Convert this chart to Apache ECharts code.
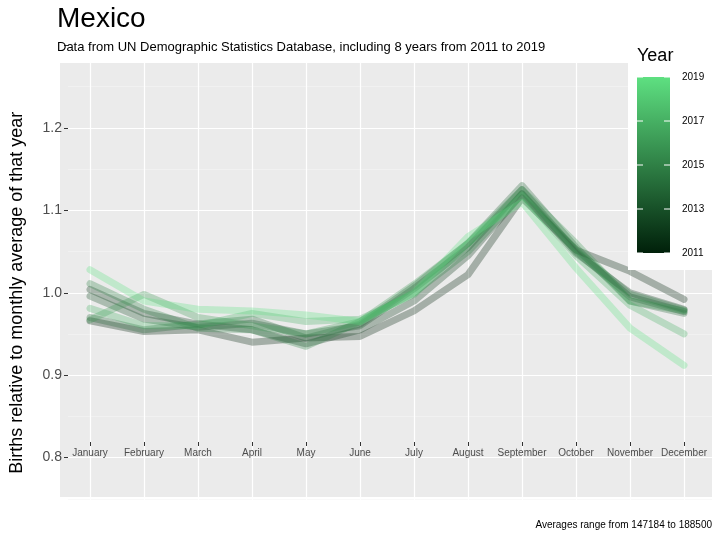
<!DOCTYPE html>
<html>
<head>
<meta charset="UTF-8">
<script src="https://cdn.jsdelivr.net/npm/echarts@6/dist/echarts.min.js"></script>
<style>body{margin:0}#c{width:720px;height:540px}</style>
</head>
<body>
<div id="c"></div>
<script>
var months = ['January','February','March','April','May','June','July','August','September','October','November','December'];
var years = [2011, 2012, 2013, 2014, 2015, 2016, 2017, 2019];
var v2011 = [0.966, 0.953, 0.955, 0.940, 0.945, 0.947, 0.978, 1.022, 1.115, 1.052, 1.026, 0.992];
var v2012 = [1.004, 0.975, 0.962, 0.955, 0.938, 0.955, 0.990, 1.045, 1.120, 1.048, 1.000, 0.980];
var v2013 = [0.996, 0.968, 0.958, 0.963, 0.950, 0.960, 1.005, 1.055, 1.125, 1.050, 0.995, 0.977];
var v2014 = [0.970, 0.955, 0.962, 0.968, 0.945, 0.962, 1.008, 1.060, 1.130, 1.055, 0.990, 0.975];
var v2015 = [1.011, 0.980, 0.957, 0.955, 0.935, 0.965, 1.000, 1.050, 1.120, 1.052, 0.998, 0.979];
var v2016 = [0.967, 0.998, 0.970, 0.960, 0.950, 0.965, 1.010, 1.060, 1.125, 1.060, 0.990, 0.978];
var v2017 = [0.981, 0.960, 0.960, 0.975, 0.965, 0.968, 0.998, 1.060, 1.118, 1.045, 0.985, 0.950];
var v2019 = [1.028, 0.990, 0.980, 0.978, 0.973, 0.965, 1.000, 1.068, 1.110, 1.030, 0.957, 0.912];
var seriesData = [v2011, v2012, v2013, v2014, v2015, v2016, v2017, v2019];
var yTicks = [0.8, 0.9, 1.0, 1.1, 1.2];
var legendYears = [2011, 2013, 2015, 2017, 2019];

function yearColor(y) {
    var a = [0, 32, 10], b = [94, 224, 129], t = (y - 2011) / 8;
    return 'rgb(' + a.map(function (c, i) { return Math.round(c + (b[i] - c) * t); }).join(',') + ')';
}

var chart = echarts.init(document.getElementById('c'));
var series = [];
for (var i = 0; i < years.length; i++) {
    series.push({
        type: 'line', name: String(years[i]), data: seriesData[i],
        xAxisIndex: 0, yAxisIndex: 0,
        showSymbol: false, silent: true,
        lineStyle: {width: 7, color: yearColor(years[i]), opacity: 0.3, cap: 'round', join: 'round'}
    });
}

// colour bar: 2011 at y=253, 2019 at y=77
var graphics = [
    {type: 'rect', shape: {x: 60, y: 63, width: 652, height: 434}, style: {fill: '#ebebeb'}, z: -10, silent: true},
    {type: 'rect', shape: {x: 628, y: 45, width: 84, height: 225}, style: {fill: '#ffffff'}, z: 50},
    {type: 'text', x: 637, y: 47, style: {text: 'Year', font: '18px "Liberation Sans", Arial', fill: '#000'}, z: 51},
    {type: 'rect', shape: {x: 637, y: 77, width: 33, height: 176},
        style: {fill: new echarts.graphic.LinearGradient(0, 0, 0, 1, [{offset: 0, color: yearColor(2019)}, {offset: 1, color: yearColor(2011)}])}, z: 51}
];
legendYears.forEach(function (y) {
    var py = 253 - (y - 2011) * 22;
    graphics.push({type: 'line', shape: {x1: 637, y1: py, x2: 643, y2: py}, style: {stroke: '#fff', lineWidth: 1}, z: 52});
    graphics.push({type: 'line', shape: {x1: 664, y1: py, x2: 670, y2: py}, style: {stroke: '#fff', lineWidth: 1}, z: 52});
    graphics.push({type: 'text', x: 682, y: py, style: {text: String(y), font: '10px "Liberation Sans", Arial', fill: '#000', verticalAlign: 'middle'}, z: 52});
});
graphics.push({type: 'rect', shape: {x: 500, y: 515, width: 220, height: 25}, style: {fill: '#fff'}, z: 99});
graphics.push({type: 'text', right: 8, bottom: 10, style: {text: 'Averages range from 147184 to 188500', font: '10px "Liberation Sans", Arial', fill: '#000'}, z: 100});

// y scale: 0.8 at y=438, 1.2 at y=124 -> 0.7 at 595, 1.3 at 45.5
var yCommon = {type: 'value', min: 0.7, max: 1.3, interval: 0.1};
var option = {
    animation: false,
    backgroundColor: '#fff',
    textStyle: {fontFamily: '"Liberation Sans", Arial'},
    title: {
        text: 'Mexico', subtext: 'Data from UN Demographic Statistics Database, including 8 years from 2011 to 2019',
        left: 52, top: 0, itemGap: 8, z: 20,
        textStyle: {fontSize: 28, fontWeight: 'normal', color: '#000'},
        subtextStyle: {fontSize: 13, color: '#000'}
    },
    grid: [
        {left: 90, width: 594, top: 45.5, height: 549.5},
        {left: 60, width: 652, top: 45.5, height: 549.5}
    ],
    xAxis: [{
        type: 'category', data: months, boundaryGap: false, gridIndex: 0, offset: -98,
        axisLine: {show: false},
        axisTick: {lineStyle: {color: '#333'}, length: 4},
        axisLabel: {fontSize: 10, color: '#4d4d4d', margin: 6, interval: 0},
        splitLine: {show: true, interval: 0, lineStyle: {color: '#fff', width: 1.2}}
    }, {
        type: 'value', gridIndex: 1, show: false
    }],
    yAxis: [Object.assign({gridIndex: 0, show: false, splitLine: {show: false}}, yCommon),
        Object.assign({
        gridIndex: 1,
        name: 'Births relative to monthly average of that year',
        nameLocation: 'middle', nameGap: 42, nameTextStyle: {fontSize: 18, color: '#000'},
        nameRotate: 90,
        axisLine: {show: false},
        axisTick: {show: true, length: 4, lineStyle: {color: '#333'}},
        axisLabel: {fontSize: 14, color: '#4d4d4d', margin: 6, formatter: function (v) {
            v = Math.round(v * 10) / 10;
            return yTicks.indexOf(v) >= 0 ? v.toFixed(1) : '';
        }},
        splitLine: {lineStyle: {color: '#fff', width: 1.2}},
        minorTick: {show: false, splitNumber: 2},
        minorSplitLine: {show: true, lineStyle: {color: '#f5f5f5', width: 0.6}}
    }, yCommon)],
    graphic: graphics,
    series: series
};
chart.setOption(option);
</script>
</body>
</html>
